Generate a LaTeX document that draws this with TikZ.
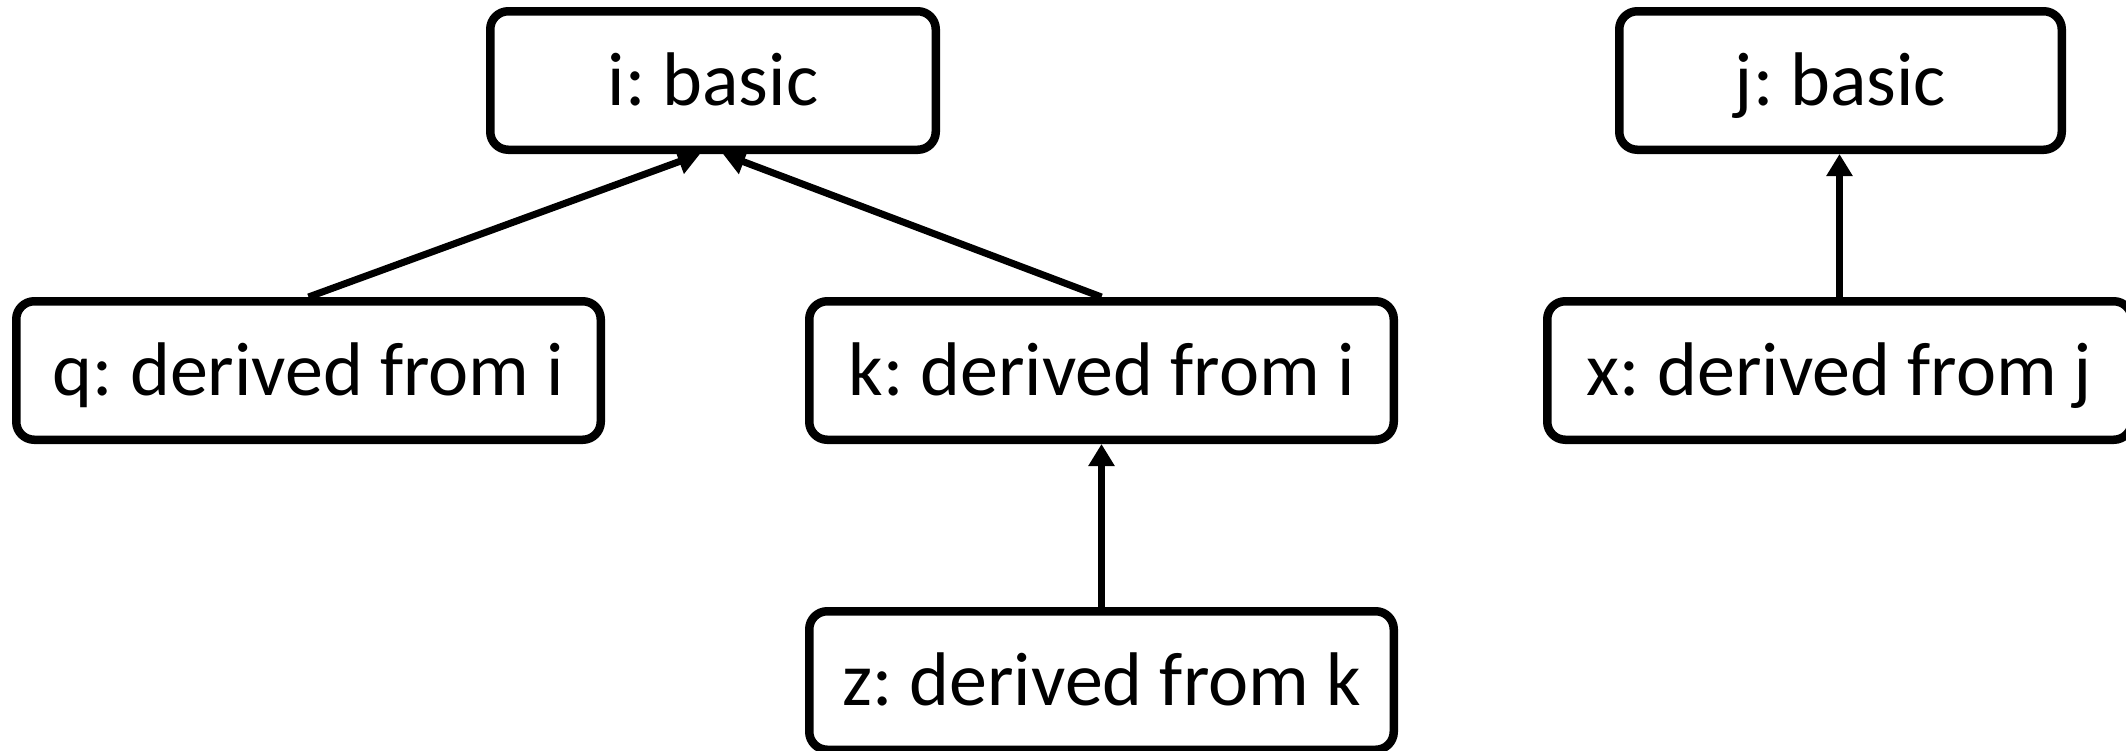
\documentclass[tikz,border=0pt]{standalone}
\usepackage{fontspec}
\setmainfont{Carlito}
\usetikzlibrary{arrows.meta,calc}

\begin{document}
\frenchspacing
\begin{tikzpicture}[x=0.5pt, y=-0.5pt,
    box/.style={draw, line width=4.25pt, rounded corners=9pt, minimum height=69.25pt,
      inner sep=0pt, text height=27pt, text depth=2pt, font=\fontsize{38}{45}\selectfont},
    link/.style={line width=3.5pt, -{Triangle[length=11pt, width=12.5pt]}}]
    \useasboundingbox (0, 0) rectangle (2126, 750);
    % two basic classes and their derived ones
    \node[box, minimum width=222.75pt] (i) at (713, 80.5) {i: basic};
    \node[box, minimum width=221.25pt] (j) at (1840.5, 80.5) {j: basic};
    \node[box, minimum width=292.25pt] (q) at (308.5, 370.5) {q: derived from i};
    \node[box, minimum width=292.25pt] (k) at (1101.5, 370.5) {k: derived from i};
    \node[box, minimum width=292.25pt] (x) at (1839.5, 370.5) {x: derived from j};
    \node[box, minimum width=292.25pt] (z) at (1101.5, 680.5) {z: derived from k};
    \draw[link] (q.north) -- ($(i.south) + (-13, 0)$);
    \draw[link] (k.north) -- ($(i.south) + (10, 0)$);
    \draw[link] (z.north) -- (k.south);
    \draw[link] (x.north) -- (x.north |- j.south);
  \end{tikzpicture}
\end{document}
